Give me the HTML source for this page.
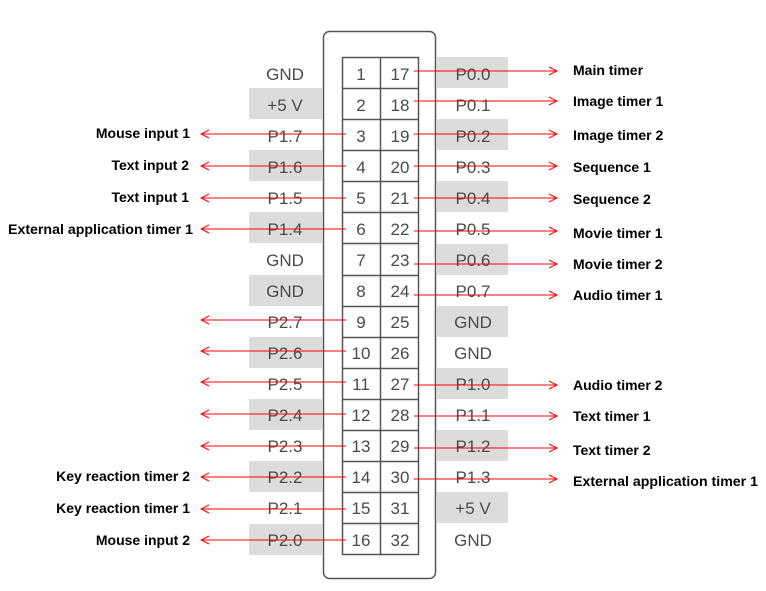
<!DOCTYPE html>
<html><head><meta charset="utf-8"><style>
html,body{margin:0;padding:0;background:#fff;width:766px;height:591px;overflow:hidden}
.p{font-family:"Liberation Sans",sans-serif;font-size:17px;fill:#4a4a4a;text-anchor:middle}
.n{font-family:"Liberation Sans",sans-serif;font-size:17px;fill:#4a4a4a;text-anchor:middle}
.l{font-family:"Liberation Sans",sans-serif;font-size:14px;font-weight:bold;fill:#000}
.r{text-anchor:end}
</style></head><body>
<svg width="766" height="591" xmlns="http://www.w3.org/2000/svg">
<defs><marker id="a" markerWidth="10" markerHeight="10" refX="9" refY="5" orient="auto" markerUnits="userSpaceOnUse"><path d="M1,1 L9,5 L1,9" fill="none" stroke="#f00" stroke-width="1"/></marker></defs>
<g fill="#dcdcdc">
<rect x="249" y="88" width="73" height="31"/><rect x="249" y="150" width="73" height="31"/><rect x="249" y="212" width="73" height="31"/><rect x="249" y="275" width="73" height="31"/><rect x="249" y="337" width="73" height="31"/><rect x="249" y="399" width="73" height="31"/><rect x="249" y="461" width="73" height="31"/><rect x="249" y="524" width="73" height="31"/>
<rect x="437" y="57" width="71" height="31"/><rect x="437" y="119" width="71" height="31"/><rect x="437" y="181" width="71" height="31"/><rect x="437" y="244" width="71" height="31"/><rect x="437" y="306" width="71" height="31"/><rect x="437" y="368" width="71" height="31"/><rect x="437" y="430" width="71" height="31"/><rect x="437" y="492" width="71" height="31"/>
</g>
<rect x="323.5" y="31.5" width="112" height="547" rx="6" fill="none" stroke="#555" stroke-width="1.5"/>
<rect x="342.5" y="57.5" width="76" height="497" fill="#fff" stroke="#555" stroke-width="1.5"/>
<line x1="380.5" y1="57" x2="380.5" y2="555" stroke="#555" stroke-width="1.5"/>
<g stroke="#555" stroke-width="1.5">
<line x1="342" y1="88.5" x2="419" y2="88.5"/><line x1="342" y1="119.5" x2="419" y2="119.5"/><line x1="342" y1="150.5" x2="419" y2="150.5"/><line x1="342" y1="181.5" x2="419" y2="181.5"/><line x1="342" y1="212.5" x2="419" y2="212.5"/><line x1="342" y1="243.5" x2="419" y2="243.5"/><line x1="342" y1="275.5" x2="419" y2="275.5"/><line x1="342" y1="306.5" x2="419" y2="306.5"/><line x1="342" y1="337.5" x2="419" y2="337.5"/><line x1="342" y1="368.5" x2="419" y2="368.5"/><line x1="342" y1="399.5" x2="419" y2="399.5"/><line x1="342" y1="430.5" x2="419" y2="430.5"/><line x1="342" y1="461.5" x2="419" y2="461.5"/><line x1="342" y1="492.5" x2="419" y2="492.5"/><line x1="342" y1="523.5" x2="419" y2="523.5"/>
</g>
<g class="n">
<text x="361" y="80">1</text><text x="361" y="111">2</text><text x="361" y="142">3</text><text x="361" y="173">4</text><text x="361" y="204">5</text><text x="361" y="235">6</text><text x="361" y="266">7</text><text x="361" y="297">8</text><text x="361" y="328">9</text><text x="361" y="359">10</text><text x="361" y="390">11</text><text x="361" y="421">12</text><text x="361" y="452">13</text><text x="361" y="483">14</text><text x="361" y="514">15</text><text x="361" y="546">16</text>
<text x="400" y="80">17</text><text x="400" y="111">18</text><text x="400" y="142">19</text><text x="400" y="173">20</text><text x="400" y="204">21</text><text x="400" y="235">22</text><text x="400" y="266">23</text><text x="400" y="297">24</text><text x="400" y="328">25</text><text x="400" y="359">26</text><text x="400" y="390">27</text><text x="400" y="421">28</text><text x="400" y="452">29</text><text x="400" y="483">30</text><text x="400" y="514">31</text><text x="400" y="546">32</text>
</g>
<g class="p">
<text x="285" y="80">GND</text><text x="285" y="111">+5 V</text><text x="285" y="142">P1.7</text><text x="285" y="173">P1.6</text><text x="285" y="204">P1.5</text><text x="285" y="235">P1.4</text><text x="285" y="266">GND</text><text x="285" y="297">GND</text><text x="285" y="328">P2.7</text><text x="285" y="359">P2.6</text><text x="285" y="390">P2.5</text><text x="285" y="421">P2.4</text><text x="285" y="452">P2.3</text><text x="285" y="483">P2.2</text><text x="285" y="514">P2.1</text><text x="285" y="546">P2.0</text>
<text x="473" y="80">P0.0</text><text x="473" y="111">P0.1</text><text x="473" y="142">P0.2</text><text x="473" y="173">P0.3</text><text x="473" y="204">P0.4</text><text x="473" y="235">P0.5</text><text x="473" y="266">P0.6</text><text x="473" y="297">P0.7</text><text x="473" y="328">GND</text><text x="473" y="359">GND</text><text x="473" y="390">P1.0</text><text x="473" y="421">P1.1</text><text x="473" y="452">P1.2</text><text x="473" y="483">P1.3</text><text x="473" y="514">+5 V</text><text x="473" y="546">GND</text>
</g>
<g stroke="#f00" stroke-width="1" marker-end="url(#a)">
<line x1="346" y1="134" x2="201" y2="134"/><line x1="346" y1="166" x2="201" y2="166"/><line x1="346" y1="198" x2="201" y2="198"/><line x1="346" y1="229" x2="201" y2="229"/>
<line x1="346" y1="320" x2="201" y2="320"/><line x1="346" y1="351" x2="201" y2="351"/><line x1="346" y1="382" x2="201" y2="382"/><line x1="346" y1="414" x2="201" y2="414"/><line x1="346" y1="446" x2="201" y2="446"/><line x1="346" y1="477" x2="201" y2="477"/><line x1="346" y1="509" x2="201" y2="509"/><line x1="346" y1="540" x2="201" y2="540"/>
<line x1="414" y1="71" x2="557" y2="71"/><line x1="414" y1="101" x2="557" y2="101"/><line x1="414" y1="134" x2="557" y2="134"/><line x1="414" y1="166" x2="557" y2="166"/><line x1="414" y1="198" x2="557" y2="198"/><line x1="414" y1="231" x2="557" y2="231"/><line x1="414" y1="264" x2="557" y2="264"/><line x1="414" y1="295" x2="557" y2="295"/>
<line x1="414" y1="385" x2="557" y2="385"/><line x1="414" y1="416" x2="557" y2="416"/><line x1="414" y1="448" x2="557" y2="448"/><line x1="414" y1="479" x2="557" y2="479"/>
</g>
<g class="l">
<text class="r" x="190" y="138">Mouse input 1</text>
<text class="r" x="189" y="170">Text input 2</text>
<text class="r" x="189" y="202">Text input 1</text>
<text class="r" x="193" y="234" textLength="185" lengthAdjust="spacingAndGlyphs">External application timer 1</text>
<text class="r" x="190" y="481">Key reaction timer 2</text>
<text class="r" x="190" y="513">Key reaction timer 1</text>
<text class="r" x="190" y="545">Mouse input 2</text>
<text x="573" y="75">Main timer</text>
<text x="573" y="106">Image timer 1</text>
<text x="573" y="140">Image timer 2</text>
<text x="573" y="172">Sequence 1</text>
<text x="573" y="204">Sequence 2</text>
<text x="573" y="238">Movie timer 1</text>
<text x="573" y="269">Movie timer 2</text>
<text x="573" y="300">Audio timer 1</text>
<text x="573" y="390">Audio timer 2</text>
<text x="573" y="421">Text timer 1</text>
<text x="573" y="455">Text timer 2</text>
<text x="573" y="486" textLength="185" lengthAdjust="spacingAndGlyphs">External application timer 1</text>
</g>
</svg>
</body></html>
